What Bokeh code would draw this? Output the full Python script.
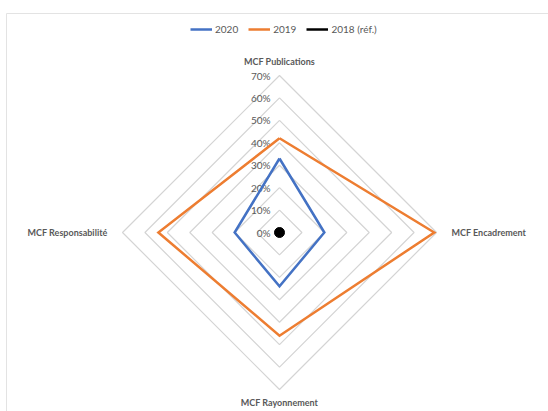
import math

from bokeh.core.properties import value
from bokeh.embed import file_html
from bokeh.models import ColumnDataSource, Legend, LegendItem, Range1d
from bokeh.plotting import figure
from bokeh.resources import INLINE

# Radar data (shares, in %)
categories = ["MCF Publications", "MCF Encadrement", "MCF Rayonnement", "MCF Responsabilité"]
series_names = ["2020", "2019", "2018 (réf.)"]
values_2020 = [33, 20, 24, 20]
values_2019 = [42, 69, 46, 54]
values_2018 = [0, 0, 0, 0]
tick_values = [0, 10, 20, 30, 40, 50, 60, 70]
tick_labels = ["0%", "10%", "20%", "30%", "40%", "50%", "60%", "70%"]

# Canvas geometry (pixels)
W, H = 548, 411
CX, CY = 279, 232          # radar centre, from the top-left corner
R_PX = 157                 # pixel radius of the outermost ring
k = R_PX / max(tick_values)  # pixels per percentage point

FONT = "Lato"
TEXT_GREY = "#595959"
GRID_GREY = "#d4d4d4"
BLUE, ORANGE, BLACK = "#4472C4", "#ED7D31", "#000000"

p = figure(
    width=W, height=H,
    x_range=Range1d(-CX / k, (W - CX) / k),
    y_range=Range1d(-(H - CY) / k, CY / k),
    output_backend="svg", toolbar_location=None,
    min_border=0, background_fill_color="white", border_fill_color="white",
)
p.axis.visible = False
p.grid.visible = False
p.outline_line_color = None


def px_x(px):
    return (px - CX) / k


def px_y(py):
    return (CY - py) / k


# Chart-area frame (top and left edges visible on the canvas)
p.segment(x0=[px_x(6), px_x(6)], y0=[px_y(13), px_y(13)],
          x1=[px_x(W + 5), px_x(6)], y1=[px_y(13), px_y(H + 5)],
          line_color="#e3e3e3", line_width=1)

# Category directions: first at the top, then clockwise
angles = [math.radians(90 - 90 * i) for i in range(len(categories))]


def ring(vals):
    xs = [v * math.cos(a) for v, a in zip(vals, angles)]
    ys = [v * math.sin(a) for v, a in zip(vals, angles)]
    return xs + xs[:1], ys + ys[:1]


# Concentric diamond gridlines
grid_xs, grid_ys = [], []
for t in tick_values[1:]:
    gx, gy = ring([t] * len(categories))
    grid_xs.append(gx)
    grid_ys.append(gy)
p.multi_line(xs=grid_xs, ys=grid_ys, line_color=GRID_GREY, line_width=1.2)

# Radial tick labels along the vertical axis
p.text(x=[px_x(CX - 9)] * len(tick_values), y=tick_values, text=tick_labels,
       text_align="right", text_baseline="middle",
       text_font=value(FONT), text_font_size="10px", text_color=TEXT_GREY)

# Series
x20, y20 = ring(values_2020)
x19, y19 = ring(values_2019)
x18, y18 = ring(values_2018)
r20 = p.line(x20, y20, line_color=BLUE, line_width=2.5, line_join="miter")
r19 = p.line(x19, y19, line_color=ORANGE, line_width=2.5, line_join="miter")
r18 = p.line(x18, y18, line_color=BLACK, line_width=2.5)
p.scatter(x18[:1], y18[:1], size=10, color=BLACK)

# Category labels around the radar
off = 15 / k
lab = ColumnDataSource(dict(
    x=[0, (R_PX / k) + off, 0, -(R_PX / k) - off],
    y=[(R_PX / k) + 14 / k, 0, -(R_PX / k) - 13 / k, 0],
    text=categories,
    align=["center", "left", "center", "right"],
    baseline=["middle", "middle", "middle", "middle"],
))
p.text(x="x", y="y", text="text", source=lab,
       text_align="align", text_baseline="baseline",
       text_font=value(FONT), text_font_style="bold",
       text_font_size="9px", text_color=TEXT_GREY)

legend = Legend(
    items=[LegendItem(label=series_names[0], renderers=[r20]),
           LegendItem(label=series_names[1], renderers=[r19]),
           LegendItem(label=series_names[2], renderers=[r18])],
    orientation="horizontal", location=(190, 372),
    padding=0, margin=0, spacing=10,
    glyph_width=22, glyph_height=20, label_standoff=3,
    label_text_font=FONT, label_text_font_size="10px",
    label_text_color=TEXT_GREY,
    border_line_color=None, background_fill_alpha=0,
)
p.add_layout(legend)

open("out.html", "w").write(file_html(p, INLINE))
